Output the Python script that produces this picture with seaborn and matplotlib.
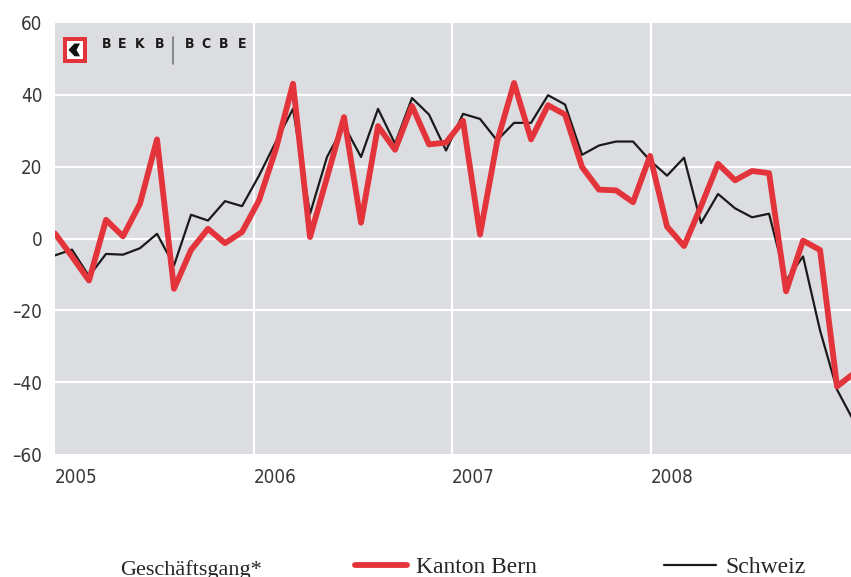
import numpy as np
import pandas as pd
import seaborn as sns
import matplotlib
matplotlib.use('Agg')
import matplotlib.pyplot as plt
from matplotlib.patches import Rectangle, Polygon
from matplotlib.lines import Line2D

# monthly values, Jan 2005 onwards (index = month number)
kanton_bern = [1.4, -5.0, -11.7, 5.2, 0.6, 9.7, 27.6, -14.0, -3.2, 2.7, -1.3, 1.8,
               10.6, 25.0, 43.1, 0.4, 17.0, 33.8, 4.4, 31.3, 24.7, 36.9, 26.2, 26.7,
               32.8, 1.1, 26.9, 43.3, 27.6, 37.1, 34.5, 19.9, 13.6, 13.4, 10.1, 23.0,
               3.3, -2.1, 9.0, 20.8, 16.2, 18.8, 18.2, -14.7, -0.6, -3.2, -41.2, -37.5]
schweiz = [-4.7, -3.1, -10.5, -4.3, -4.5, -2.7, 1.3, -7.5, 6.6, 5.0, 10.4, 9.0,
           17.5, 27.0, 36.1, 6.9, 22.7, 31.5, 22.7, 36.1, 26.4, 39.1, 34.5, 24.5,
           34.7, 33.3, 27.3, 32.2, 32.2, 39.9, 37.3, 23.3, 25.9, 27.0, 27.0, 21.7,
           17.5, 22.5, 4.3, 12.4, 8.4, 5.9, 6.9, -11.7, -5.0, -25.6, -42.1, -51.0]
months = np.arange(len(kanton_bern))

year_labels = ['2005', '2006', '2007', '2008']
year_pos = [0, 11.7, 23.35, 35.05]
y_ticks = [-60, -40, -20, 0, 20, 40, 60]
y_labels = ['\u201360', '\u201340', '\u201320', '0', '20', '40', '60']

df = pd.DataFrame({'month': months, 'Kanton Bern': kanton_bern, 'Schweiz': schweiz})

RED = '#e3343c'
BG = '#dcdde0'

sns.set_style('whitegrid', {'axes.facecolor': BG, 'grid.color': 'white'})
plt.rcParams['font.family'] = ['DejaVu Sans']
plt.rcParams['font.stretch'] = 'condensed'

W, H = 851, 577
fig = plt.figure(figsize=(W / 100, H / 100), dpi=100)
ax = fig.add_axes([55 / W, 1 - 454 / H, (W - 55) / W, (454 - 23) / H])

sns.lineplot(data=df, x='month', y='Schweiz', ax=ax, color='#1a1a1a', linewidth=1.6)
sns.lineplot(data=df, x='month', y='Kanton Bern', ax=ax, color=RED, linewidth=4.2)

ax.set_xlim(0, 46.82)
ax.set_ylim(-60, 60)
ax.set_xticks(year_pos)
ax.set_xticklabels(year_labels, ha='left')
ax.set_yticks(y_ticks)
ax.set_yticklabels(y_labels)
ax.set_xlabel('')
ax.set_ylabel('')
ax.tick_params(axis='both', length=0, labelsize=13.5, colors='#383838')
ax.tick_params(axis='x', pad=10)
ax.tick_params(axis='y', pad=9)
ax.grid(True, color='white', linewidth=1.6)
for s in ax.spines.values():
    s.set_visible(False)
# no grid on the frame edges
ax.xaxis.get_gridlines()[0].set_visible(False)
ygl = ax.yaxis.get_gridlines()
ygl[0].set_visible(False)
ygl[-1].set_visible(False)

# bank logo in the top-left corner
def px(x, y):
    return (x / W, 1 - y / H)

tf = fig.transFigure
fig.add_artist(Rectangle(px(62.5, 63.3), 24.8 / W, 26 / H, transform=tf,
                         facecolor=RED, edgecolor='none'))
fig.add_artist(Rectangle(px(66.5, 59.3), 16.8 / W, 17.8 / H, transform=tf,
                         facecolor='white', edgecolor='none'))
fig.add_artist(Polygon([px(68.5, 49.8), px(74.5, 43.5), px(80, 43.5), px(76.5, 50),
                        px(80, 56.3), px(74.5, 56.3)], closed=True, transform=tf,
                       facecolor='#111111', edgecolor='none'))
logo_letters = [(101.5, 'B'), (118, 'E'), (135, 'K'), (155, 'B'),
                (185, 'B'), (201.5, 'C'), (219, 'B'), (237.5, 'E')]
for lx, ch in logo_letters:
    fig.text(*px(lx, 48.5), ch, fontsize=10, fontweight='bold',
             color='#1a1a1a', va='baseline', ha='left')
fig.add_artist(Line2D([172.7 / W, 172.7 / W], [1 - 37 / H, 1 - 63.5 / H], transform=tf,
                      color='#777777', linewidth=1.2))

# legend row at the bottom
serif = ['Liberation Serif', 'DejaVu Serif']
fig.text(*px(120.5, 575), 'Geschäftsgang*', fontsize=16, family=serif,
         stretch='normal', va='baseline')
handles = [Line2D([], [], color=RED, linewidth=4.2),
           Line2D([], [], color='#1a1a1a', linewidth=1.6)]
fig.legend(handles, ['Kanton Bern', 'Schweiz'], loc='center left',
           bbox_to_anchor=(355 / W, 9.5 / H), ncol=2, frameon=False,
           prop={'family': serif, 'size': 17, 'stretch': 'normal'}, handlelength=2.2,
           handletextpad=0.38, columnspacing=5.4, borderpad=0, borderaxespad=0)

fig.savefig('out.png', dpi=100)
